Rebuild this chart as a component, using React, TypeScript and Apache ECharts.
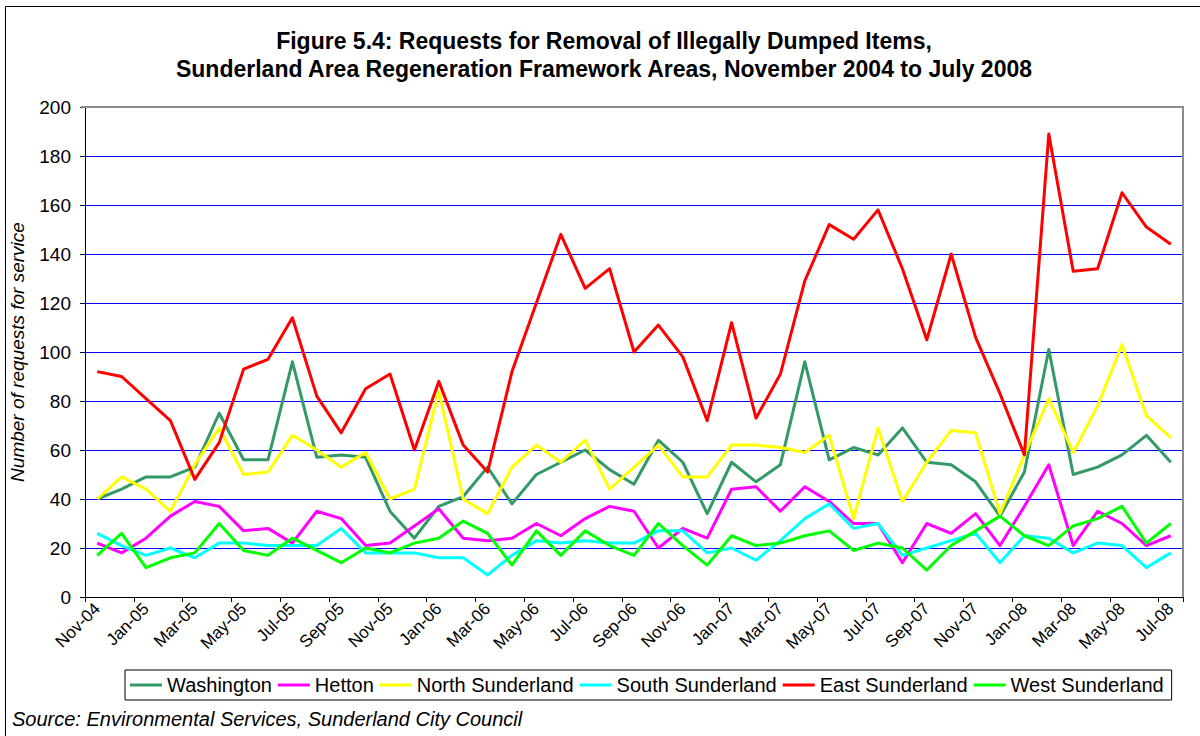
import React, { useEffect, useRef } from "react";
import * as echarts from "echarts";

const FONT = "'Liberation Sans', Arial, Helvetica, sans-serif";

const titleLines = [
  "Figure 5.4: Requests for Removal of Illegally Dumped Items,",
  "Sunderland Area Regeneration Framework Areas, November 2004 to July 2008",
];

const months = [
  "Nov-04", "Dec-04", "Jan-05", "Feb-05", "Mar-05", "Apr-05", "May-05", "Jun-05", "Jul-05",
  "Aug-05", "Sep-05", "Oct-05", "Nov-05", "Dec-05", "Jan-06", "Feb-06", "Mar-06", "Apr-06",
  "May-06", "Jun-06", "Jul-06", "Aug-06", "Sep-06", "Oct-06", "Nov-06", "Dec-06", "Jan-07",
  "Feb-07", "Mar-07", "Apr-07", "May-07", "Jun-07", "Jul-07", "Aug-07", "Sep-07", "Oct-07",
  "Nov-07", "Dec-07", "Jan-08", "Feb-08", "Mar-08", "Apr-08", "May-08", "Jun-08", "Jul-08",
];

const washington = [
  40, 44, 49, 49, 53, 75, 56, 56, 96, 57, 58, 57, 35, 24, 37, 41, 53, 38, 50, 55, 60, 52, 46,
  64, 55, 34, 55, 47, 54, 96, 56, 61, 58, 69, 55, 54, 47, 33, 51, 101, 50, 53, 58, 66, 55,
];

const hetton = [
  22, 18, 24, 33, 39, 37, 27, 28, 22, 35, 32, 21, 22, 29, 36, 24, 23, 24, 30, 25, 32, 37, 35,
  20, 28, 24, 44, 45, 35, 45, 39, 30, 30, 14, 30, 26, 34, 21, 37, 54, 21, 35, 30, 21, 25,
];

const northSunderland = [
  40, 49, 44, 35, 54, 69, 50, 51, 66, 60, 53, 59, 40, 44, 84, 40, 34, 53, 62, 55, 64, 44, 53,
  62, 49, 49, 62, 62, 61, 59, 66, 32, 69, 39, 55, 68, 67, 34, 58, 81, 59, 78, 103, 74, 65,
];

const southSunderland = [
  26, 21, 17, 20, 16, 22, 22, 21, 21, 21, 28, 18, 18, 18, 16, 16, 9, 17, 23, 22, 23, 22, 22,
  27, 27, 18, 20, 15, 23, 32, 38, 28, 30, 17, 20, 23, 26, 14, 25, 24, 18, 22, 21, 12, 18,
];

const eastSunderland = [
  92, 90, 81, 72, 48, 63, 93, 97, 114, 82, 67, 85, 91, 60, 88, 62, 51, 92, 120, 148, 126, 134,
  100, 111, 98, 72, 112, 73, 91, 129, 152, 146, 158, 134, 105, 140, 106, 83, 58, 189, 133, 134,
  165, 151, 144,
];

const westSunderland = [
  17, 26, 12, 16, 18, 30, 19, 17, 24, 19, 14, 20, 18, 22, 24, 31, 26, 13, 27, 17, 27, 21, 17,
  30, 21, 13, 25, 21, 22, 25, 27, 19, 22, 20, 11, 21, 27, 33, 25, 21, 29, 32, 37, 22, 30,
];

const seriesDefs = [
  { name: "Washington", data: washington, color: "#339966" },
  { name: "Hetton", data: hetton, color: "#FF00FF" },
  { name: "North Sunderland", data: northSunderland, color: "#FFFF00" },
  { name: "South Sunderland", data: southSunderland, color: "#00FFFF" },
  { name: "East Sunderland", data: eastSunderland, color: "#FF0000" },
  { name: "West Sunderland", data: westSunderland, color: "#00FF00" },
];

const GRID = { left: 81, top: 107, right: 1183, bottom: 597 };

export default function App() {
  const ref = useRef<HTMLDivElement>(null);

  useEffect(() => {
    document.body.style.margin = "0";
    if (!ref.current) return;
    const chart = echarts.init(ref.current, undefined, { renderer: "svg" });

    chart.setOption({
      animation: false,
      backgroundColor: "#ffffff",
      textStyle: { fontFamily: FONT, color: "#000" },
      grid: {
        left: GRID.left,
        top: GRID.top,
        width: GRID.right - GRID.left,
        height: GRID.bottom - GRID.top,
        containLabel: false,
      },
      legend: {
        left: 125,
        top: 670,
        orient: "horizontal",
        icon: "rect",
        itemWidth: 32,
        itemHeight: 3,
        itemGap: 6,
        padding: [5, 8, 5, 5],
        borderColor: "#000",
        borderWidth: 1,
        backgroundColor: "#fff",
        textStyle: { fontFamily: FONT, fontSize: 20, color: "#000", lineHeight: 19 },
        data: seriesDefs.map((s) => s.name),
      },
      xAxis: {
        type: "category",
        data: months,
        boundaryGap: true,
        axisLine: { show: true, lineStyle: { color: "#000", width: 1 } },
        axisTick: { show: true, interval: 1, length: 5, lineStyle: { color: "#000" } },
        axisLabel: {
          interval: 1,
          rotate: 45,
          margin: 9,
          fontFamily: FONT,
          fontSize: 17,
          color: "#000",
        },
        splitLine: { show: false },
      },
      yAxis: {
        type: "value",
        min: 0,
        max: 200,
        interval: 20,
        name: "Number of requests for service",
        nameLocation: "middle",
        nameRotate: 90,
        nameGap: 58,
        nameTextStyle: {
          fontFamily: FONT,
          fontSize: 19,
          fontStyle: "italic",
          color: "#000",
        },
        axisLine: { show: true, lineStyle: { color: "#000", width: 1 } },
        axisTick: { show: true, length: 5, lineStyle: { color: "#000" } },
        axisLabel: { margin: 14, fontFamily: FONT, fontSize: 19, color: "#000" },
        splitLine: { show: true, lineStyle: { color: "#0000FF", width: 1 } },
      },
      series: seriesDefs.map((s) => ({
        name: s.name,
        type: "line",
        data: s.data,
        symbol: "none",
        color: s.color,
        lineStyle: { color: s.color, width: 3, join: "round" },
      })),
      graphic: [
        {
          type: "rect",
          silent: true,
          z: 100,
          shape: { x: 5.5, y: 6.5, width: 1210, height: 750 },
          style: { fill: "none", stroke: "#000", lineWidth: 1 },
        },
        {
          type: "polyline",
          silent: true,
          z: 100,
          shape: {
            points: [
              [GRID.left, GRID.top],
              [GRID.right, GRID.top],
              [GRID.right, GRID.bottom],
            ],
          },
          style: { fill: "none", stroke: "#8c8c8c", lineWidth: 2 },
        },
        {
          type: "text",
          silent: true,
          x: 604,
          y: 27,
          style: {
            text: titleLines.join("\n"),
            font: `bold 23px ${FONT}`,
            lineHeight: 28,
            align: "center",
            verticalAlign: "top",
            fill: "#000",
          },
        },
        {
          type: "text",
          silent: true,
          left: 12,
          top: 709,
          style: {
            text: "Source: Environmental Services, Sunderland City Council",
            font: `italic 20px ${FONT}`,
            fill: "#000",
          },
        },
      ],
    });

    return () => chart.dispose();
  }, []);

  return <div ref={ref} style={{ width: 1200, height: 736 }} />;
}
